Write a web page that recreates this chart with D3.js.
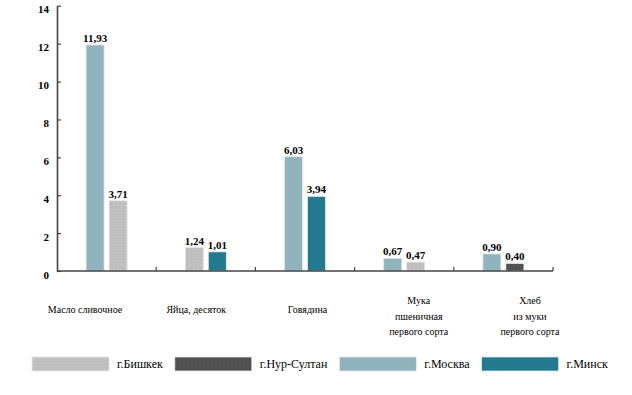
<!DOCTYPE html>
<html>
<head>
<meta charset="utf-8">
<script src="https://cdn.jsdelivr.net/npm/d3@7"></script>
<style>
  body { margin: 0; background: #fff; }
</style>
</head>
<body>
<svg id="chart" width="632" height="395"></svg>
<script>
// categories (label lines)
var categories = ["Масло сливочное", "Яйца, десяток", "Говядина", "Мука пшеничная первого сорта", "Хлеб из муки первого сорта"];
var categoryLines = [["Масло сливочное"], ["Яйца,  десяток"], ["Говядина"], ["Мука", "пшеничная", "первого сорта"], ["Хлеб", "из муки", "первого сорта"]];

// series values, null = no bar
var bishkek   = [3.71, 1.24, null, 0.47, null];
var nurSultan = [null, null, null, null, 0.40];
var moskva    = [11.93, null, 6.03, 0.67, 0.90];
var minsk     = [null, 1.01, 3.94, null, null];

var yTicks = [0, 2, 4, 6, 8, 10, 12, 14];

var series = [
    { name: "г.Бишкек", values: bishkek, fill: "url(#dotsLight)", order: 1 },
    { name: "г.Нур-Султан", values: nurSultan, fill: "url(#dotsDark)", order: 3 },
    { name: "г.Москва", values: moskva, fill: "#8fb4bd", order: 0 },
    { name: "г.Минск", values: minsk, fill: "#237a8f", order: 2 }
];

var FONT = "Liberation Serif, Times New Roman, serif";

var svg = d3.select("#chart")
    .attr("font-family", FONT)
    .attr("fill", "#000");

// patterns for the grey series
var defs = svg.append("defs");
var p1 = defs.append("pattern").attr("id", "dotsLight").attr("width", 4).attr("height", 4).attr("patternUnits", "userSpaceOnUse");
p1.append("rect").attr("width", 4).attr("height", 4).attr("fill", "#bebebe");
p1.append("rect").attr("x", 1).attr("y", 1).attr("width", 1).attr("height", 1).attr("fill", "#d2d2d2");
var p2 = defs.append("pattern").attr("id", "dotsDark").attr("width", 4).attr("height", 4).attr("patternUnits", "userSpaceOnUse");
p2.append("rect").attr("width", 4).attr("height", 4).attr("fill", "#505050");
p2.append("rect").attr("x", 1).attr("y", 1).attr("width", 1).attr("height", 1).attr("fill", "#5c5c5c");

var x = d3.scaleBand().domain(categories).range([57, 553]);
var y = d3.scaleLinear().domain([0, 14]).range([271, 5.8]);
var inner = d3.scaleBand().domain([0, 1]).range([-20.5, 20.5]).paddingInner(0.217);
var labelX = d3.scalePoint().domain(categories).range([85, 530]);

// bars per category: present series sorted by order
var bars = [];
categories.forEach(function (c, i) {
    var present = series.filter(function (s) { return s.values[i] != null; })
        .sort(function (a, b) { return a.order - b.order; });
    present.forEach(function (s, k) {
        bars.push({ cat: c, slot: k, value: s.values[i], fill: s.fill });
    });
});

var barX = function (d) { return x(d.cat) + x.bandwidth() / 2 + inner(d.slot); };

svg.append("g").selectAll("rect")
    .data(bars)
    .enter().append("rect")
    .attr("x", barX)
    .attr("y", function (d) { return y(d.value); })
    .attr("width", inner.bandwidth())
    .attr("height", function (d) { return y(0) - y(d.value); })
    .attr("fill", function (d) { return d.fill; })
    .attr("stroke", "#e6e6e6")
    .attr("stroke-width", 0.8);

svg.append("g").selectAll("text")
    .data(bars)
    .enter().append("text")
    .attr("x", function (d) { return barX(d) + inner.bandwidth() / 2; })
    .attr("y", function (d) { return y(d.value) - 3; })
    .attr("text-anchor", "middle")
    .attr("font-family", FONT)
    .attr("font-size", 11)
    .attr("font-weight", "bold")
    .text(function (d) { return d.value.toFixed(2).replace(".", ","); });

// y axis
var yAxis = svg.append("g")
    .attr("transform", "translate(57,0)")
    .call(d3.axisLeft(y).tickValues(yTicks).tickSizeInner(-4).tickSizeOuter(0).tickPadding(8));
yAxis.attr("font-family", FONT).attr("font-size", 11);
yAxis.select(".domain").attr("stroke", "#444").attr("stroke-width", 1.6);
yAxis.selectAll(".tick line").attr("stroke", "#444").attr("stroke-width", 1.2);
yAxis.selectAll(".tick text")
    .attr("dy", "0.65em")
    .attr("fill", "#000")
    .attr("font-family", FONT)
    .attr("font-weight", "bold");

// x axis baseline with boundary ticks
var xAxis = svg.append("g").attr("transform", "translate(0," + y(0) + ")");
xAxis.append("line")
    .attr("x1", x.range()[0]).attr("x2", x.range()[1])
    .attr("stroke", "#444").attr("stroke-width", 1.6);
xAxis.selectAll("line.tk")
    .data(categories)
    .enter().append("line")
    .attr("class", "tk")
    .attr("x1", function (d) { return x(d) + x.bandwidth(); })
    .attr("x2", function (d) { return x(d) + x.bandwidth(); })
    .attr("y1", 0).attr("y2", -4)
    .attr("stroke", "#444").attr("stroke-width", 1.2);

// category labels
var catG = svg.append("g").selectAll("text")
    .data(categories)
    .enter().append("text")
    .attr("text-anchor", "middle")
    .attr("font-family", FONT)
    .attr("font-size", 10)
    .attr("transform", function (d, i) {
        var n = categoryLines[i].length;
        return "translate(" + labelX(d) + "," + (n === 1 ? 313 : 304) + ")";
    });
catG.selectAll("tspan")
    .data(function (d, i) { return categoryLines[i]; })
    .enter().append("tspan")
    .attr("x", 0)
    .attr("y", function (d, k) { return k * 15.5; })
    .text(function (d) { return d; });

// legend: items flow left to right, spaced by their text width
var lg = svg.append("g").attr("transform", "translate(32,357)");
var cursor = 0;
series.forEach(function (s) {
    var item = lg.append("g").attr("transform", "translate(" + cursor + ",0)");
    item.append("rect")
        .attr("width", 77).attr("height", 14)
        .attr("fill", s.fill)
        .attr("stroke", "#e6e6e6").attr("stroke-width", 0.8);
    var t = item.append("text")
        .attr("x", 85).attr("y", 11)
        .attr("font-family", FONT)
        .attr("font-size", 12)
        .text(s.name);
    cursor += 85 + t.node().getComputedTextLength() + 12;
});
</script>
</body>
</html>
